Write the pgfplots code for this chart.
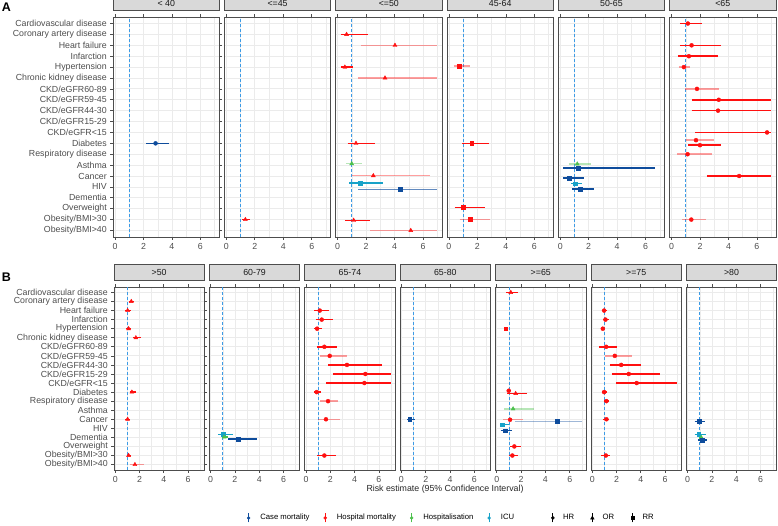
\documentclass[border=0pt]{standalone}
\usepackage{fontspec}
\setmainfont{Liberation Sans}
\usepackage{pgfplots}
\pgfplotsset{compat=1.18}
\definecolor{cmc}{HTML}{0E4C9C}
\definecolor{hmc}{HTML}{FF1010}
\definecolor{hsc}{HTML}{4CC04C}
\definecolor{icc}{HTML}{18A2C8}
\definecolor{refc}{HTML}{3C9BE6}
\definecolor{stripc}{HTML}{D9D9D9}
\definecolor{bordc}{HTML}{4D4D4D}
\definecolor{gridc}{HTML}{EBEBEB}
\definecolor{labc}{HTML}{4D4D4D}
\newcommand\lab{\fontsize{8.8}{10}\selectfont}
\pgfplotsset{
  panel/.style={
    scale only axis, anchor=north west,
    ymin=0.4, ymax=20.6,
    xtick={0,2,4,6}, minor xtick={1,3,5,7},
    ytick={1,...,20}, yticklabels={},
    xmajorgrids, ymajorgrids, xminorgrids,
    major grid style={gridc, line width=0.8pt},
    minor grid style={gridc, line width=0.4pt},
    axis line style={bordc, line width=0.8pt},
    tick align=outside, major tick length=2.7pt, minor tick length=0pt,
    xtick style={bordc, line width=0.7pt},
    ytick style={draw=none},
    tick label style={font=\lab, color=labc},
    /pgf/number format/assume math mode=true,
    title style={at={(0.5,1)}, anchor=south, yshift=0pt, fill=stripc, draw=bordc,
      line width=0.8pt, inner sep=0pt, font=\lab, text=black!90},
  },
  pA/.style={panel, width=106.5pt, height=220pt, xmin=-0.14, xmax=7.34,
    title style={minimum width=106.5pt, minimum height=15pt}},
  pB/.style={panel, width=90.3pt, height=183pt, xmin=-0.1, xmax=7.33,
    title style={minimum width=90.3pt, minimum height=16pt}},
  first/.style={yticklabels={Obesity/BMI>40, Obesity/BMI>30, Overweight, Dementia, HIV, Cancer, Asthma, Respiratory disease, Diabetes, CKD/eGFR<15, CKD/eGFR15-29, CKD/eGFR44-30, CKD/eGFR59-45, CKD/eGFR60-89, Chronic kidney disease, Hypertension, Infarction, Heart failure, Coronary artery disease, Cardiovascular disease},
    ytick style={draw=bordc, line width=0.7pt}},
  HR/.style={mark=*, mark size=2.0pt},
  OR/.style={mark=triangle*, mark size=2.3pt},
  RR/.style={mark=square*, mark size=1.9pt},
  CM/.style={color=cmc}, HM/.style={color=hmc}, HS/.style={color=hsc}, IC/.style={color=icc},
  pale/.style={draw opacity=0.4},
  mid/.style={draw opacity=0.65},
}
% #1 style, #2 estimate, #3 lower, #4 upper, #5 y position
\newcommand\ci[5]{%
  \addplot[forget plot, line width=1.5pt, #1, no marks] coordinates {(#3,#5) (#4,#5)};
  \addplot[forget plot, only marks, #1, mark options={solid, opacity=1}] coordinates {(#2,#5)};}
\newcommand\refline{\addplot[refc, line width=0.9pt, dash pattern=on 3pt off 2pt, forget plot] coordinates {(1,0.4) (1,20.6)};}
\newcommand\lkey[1]{\addlegendimage{legend image code/.code={\path (0pt,0pt) (12.5pt,0pt); \draw[#1,line width=1pt] (3pt,-4.5pt)--(3pt,4.5pt); \fill[#1] (3pt,0pt) circle (1.5pt);}}}
\newcommand\skey[1]{\addlegendimage{legend image code/.code={\path (0pt,0pt) (11pt,0pt); \draw[black,line width=1pt] (3pt,-4.5pt)--(3pt,4.5pt); #1}}}
\begin{document}
\begin{tikzpicture}
\path[use as bounding box] (0,0) rectangle (778pt,-525pt);
\node[font=\bfseries\fontsize{12.5}{14}\selectfont] at (6.5pt,-7.5pt) {A};
\node[font=\bfseries\fontsize{12.5}{14}\selectfont] at (6.5pt,-277pt) {B};
% ---------------- Row A ----------------
\begin{axis}[pA, first, at={(113pt,-17pt)}, title={< 40}]
\refline
\ci{CM,HR}{2.85}{2.2}{3.77}{9}
\end{axis}
\begin{axis}[pA, at={(224.3pt,-17pt)}, title={<=45}]
\refline
\ci{HM,OR}{1.34}{1.13}{1.69}{2}
\end{axis}
\begin{axis}[pA, at={(335.6pt,-17pt)}, title={<=50}]
\refline
\ci{HM,OR}{0.63}{0.21}{2.13}{19}
\ci{HM,OR,pale}{4.03}{1.62}{7}{18}
\ci{HM,OR}{0.51}{0.21}{1.1}{16}
\ci{HM,OR,pale}{3.33}{1.45}{7}{15}
\ci{HM,OR}{1.29}{0.7}{2.64}{9}
\ci{HS,OR,pale}{0.99}{0.58}{1.69}{7.13}
\ci{HM,OR,pale}{2.51}{0.99}{6.52}{6.03}
\ci{IC,RR}{1.59}{0.82}{3.17}{5.37}
\ci{CM,RR,mid}{4.37}{1.45}{7}{4.76}
\ci{HM,OR}{1.13}{0.51}{2.3}{1.93}
\ci{HM,OR,pale}{5.14}{2.29}{7}{1}
\end{axis}
\begin{axis}[pA, at={(446.9pt,-17pt)}, title={45-64}]
\refline
\ci{HM,RR,pale}{0.7}{0.35}{1.5}{16.1}
\ci{HM,RR}{1.6}{0.94}{2.82}{9}
\ci{HM,RR}{1.03}{0.4}{2.51}{3.1}
\ci{HM,RR,pale}{1.48}{0.75}{2.9}{2.02}
\end{axis}
\begin{axis}[pA, at={(558.2pt,-17pt)}, title={50-65}]
\refline
\ci{HS,OR,pale}{1.2}{0.6}{2.18}{7.1}
\ci{CM,RR}{1.24}{0.23}{6.69}{6.73}
\ci{CM,RR}{0.63}{0.23}{1.64}{5.8}
\ci{IC,RR}{1.08}{0.77}{1.55}{5.3}
\ci{CM,RR}{1.38}{0.85}{2.39}{4.8}
\end{axis}
\begin{axis}[pA, at={(669.5pt,-17pt)}, title={<65}]
\refline
\ci{HM,HR}{1.15}{0.61}{2.17}{20}
\ci{HM,HR}{1.41}{0.58}{3.46}{18}
\ci{HM,HR}{1.22}{0.45}{3.3}{17}
\ci{HM,HR,pale}{0.87}{0.52}{1.29}{16}
\ci{HM,HR,pale}{1.79}{0.97}{3.32}{14}
\ci{HM,HR}{3.32}{1.46}{7}{13}
\ci{HM,HR}{3.27}{1.41}{7}{12}
\ci{HM,HR}{6.71}{1.67}{7}{10}
\ci{HM,HR,pale}{1.72}{1.01}{2.99}{9.29}
\ci{HM,HR}{2.0}{1.18}{3.51}{8.83}
\ci{HM,HR,pale}{1.13}{0.42}{2.87}{8}
\ci{HM,HR}{4.75}{2.49}{7}{6}
\ci{HM,HR,pale}{1.39}{0.75}{2.45}{2}
\end{axis}
% ---------------- Row B ----------------
\begin{axis}[pB, first, at={(114pt,-287pt)}, title={>50},
  legend style={at={(1.42,-0.262)}, anchor=west, draw=none, fill=none,
    font=\fontsize{7.7}{9}\selectfont, /tikz/every even column/.append style={column sep=10.5pt}},
  legend columns=4]
\lkey{cmc}\addlegendentry{Case mortality}
\lkey{hmc}\addlegendentry{Hospital mortality}
\lkey{hsc}\addlegendentry{Hospitalisation}
\lkey{icc}\addlegendentry{ICU}
\refline
\ci{HM,OR}{1.32}{1.1}{1.56}{19}
\ci{HM,OR}{1.02}{0.8}{1.29}{18}
\ci{HM,OR}{1.1}{0.9}{1.29}{16}
\ci{HM,OR}{1.7}{1.45}{2.1}{15}
\ci{HM,OR}{1.37}{1.18}{1.68}{9}
\ci{HM,OR}{1.02}{0.82}{1.2}{6}
\ci{HM,OR}{1.1}{0.93}{1.29}{2}
\ci{HM,OR,pale}{1.62}{1.23}{2.33}{1}
\end{axis}
\begin{axis}[pB, at={(209.4pt,-287pt)}, title={60-79}]
\refline
\ci{IC,RR}{1.04}{0.63}{1.82}{4.34}
\ci{HS,OR}{1.12}{0.93}{1.4}{4.04}
\ci{CM,RR}{2.3}{1.45}{3.78}{3.8}
\end{axis}
\begin{axis}[pB, at={(304.8pt,-287pt)}, title={65-74}]
\refline
\ci{HM,HR}{1.13}{0.66}{1.92}{18}
\ci{HM,HR}{1.29}{0.8}{2.19}{17}
\ci{HM,HR}{0.91}{0.66}{1.35}{16}
\ci{HM,HR}{1.51}{0.88}{2.58}{14}
\ci{HM,HR,pale}{1.95}{1.13}{3.4}{13}
\ci{HM,HR}{3.37}{1.81}{6.22}{12}
\ci{HM,HR}{4.88}{2.19}{7}{11}
\ci{HM,HR}{4.8}{1.64}{7}{10}
\ci{HM,HR}{0.88}{0.66}{1.26}{9}
\ci{HM,HR,pale}{1.81}{1.13}{2.66}{8}
\ci{HM,HR,pale}{1.64}{0.96}{2.82}{6}
\ci{HM,HR}{1.51}{0.91}{2.44}{2}
\end{axis}
\begin{axis}[pB, at={(400.2pt,-287pt)}, title={65-80}]
\refline
\ci{CM,RR}{0.68}{0.47}{1.1}{6}
\end{axis}
\begin{axis}[pB, at={(495.6pt,-287pt)}, title={>=65}]
\refline
\ci{HM,OR}{1.15}{0.76}{1.72}{20}
\ci{HM,RR}{0.73}{0.62}{0.95}{16}
\ci{HM,HR}{0.98}{0.81}{1.17}{9.15}
\ci{HM,OR}{1.55}{0.87}{2.47}{8.84}
\ci{HS,OR,pale}{1.34}{0.6}{3.06}{7.15}
\ci{HM,HR,pale}{1.09}{0.53}{2.19}{5.95}
\ci{CM,RR,pale}{4.98}{1.49}{7}{5.75}
\ci{IC,RR}{0.47}{0.26}{1.0}{5.4}
\ci{CM,RR}{0.66}{0.31}{1.28}{4.75}
\ci{HM,HR}{1.44}{1.1}{1.99}{3}
\ci{HM,HR}{1.28}{1.0}{1.72}{2}
\end{axis}
\begin{axis}[pB, at={(591pt,-287pt)}, title={>=75}]
\refline
\ci{HM,HR}{0.98}{0.77}{1.18}{18}
\ci{HM,HR}{1.09}{0.87}{1.37}{17}
\ci{HM,HR}{0.87}{0.71}{1.09}{16}
\ci{HM,HR}{1.15}{0.57}{2.0}{14}
\ci{HM,HR,pale}{1.86}{1.04}{3.31}{13}
\ci{HM,HR}{2.38}{1.45}{4.03}{12}
\ci{HM,HR}{3.01}{1.59}{5.56}{11}
\ci{HM,HR}{3.66}{1.94}{6.95}{10}
\ci{HM,HR}{0.98}{0.8}{1.23}{9}
\ci{HM,HR}{1.17}{0.98}{1.4}{8}
\ci{HM,HR}{1.17}{0.85}{1.4}{6}
\ci{HM,HR}{1.12}{0.71}{1.48}{2}
\end{axis}
\begin{axis}[pB, at={(686.4pt,-287pt)}, title={>80},
  legend style={at={(-1.55,-0.262)}, anchor=west, draw=none, fill=none,
    font=\fontsize{7.7}{9}\selectfont, /tikz/every even column/.append style={column sep=13pt}},
  legend columns=3]
\skey{\fill[black] (3pt,0pt) circle (1.6pt);}\addlegendentry{HR}
\skey{\fill[black] (3pt,2pt) -- (1.2pt,-1.2pt) -- (4.8pt,-1.2pt) -- cycle;}\addlegendentry{OR}
\skey{\fill[black] (1.6pt,-1.4pt) rectangle (4.4pt,1.4pt);}\addlegendentry{RR}
\refline
\ci{CM,RR}{0.95}{0.58}{1.44}{5.75}
\ci{IC,RR}{0.91}{0.58}{1.55}{4.34}
\ci{HS,OR}{1.13}{0.95}{1.3}{3.97}
\ci{CM,RR}{1.19}{0.86}{1.63}{3.7}
\end{axis}
\node[font=\lab, text=black!85] at (445pt,-489pt) {Risk estimate (95\% Confidence Interval)};
\end{tikzpicture}
\end{document}
